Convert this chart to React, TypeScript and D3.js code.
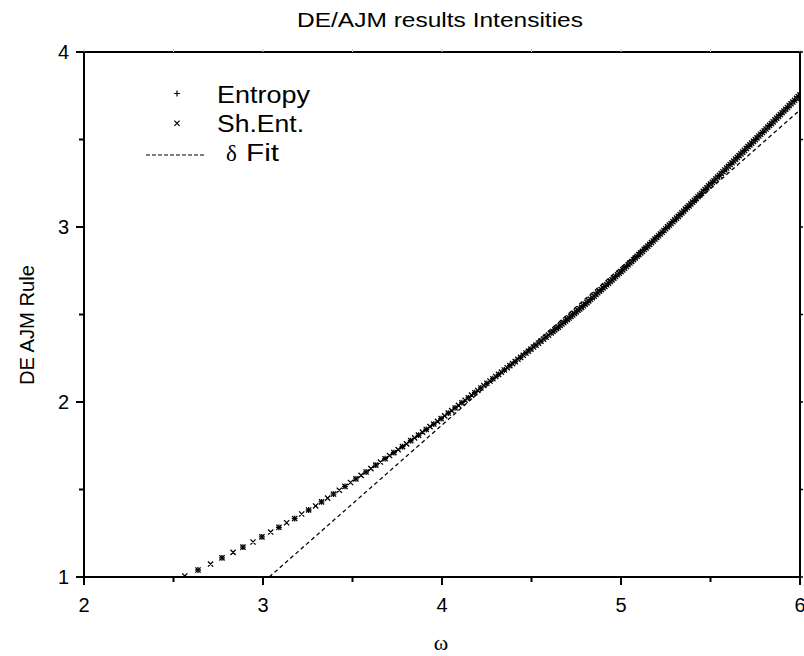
import React from "react";
import * as d3 from "d3";

const W = 804;
const H = 656;
const M = { left: 84, right: 4, top: 52, bottom: 79 };

const xTicks = [2, 3, 4, 5, 6];
const yTicks = [1, 2, 3, 4];
const xMinor = [2.5, 3.5, 4.5, 5.5];
const yMinor = [1.5, 2.5, 3.5];

// Sh.Ent. series (omega, value)
const shOmega = [
  2.563, 2.637, 2.707, 2.771, 2.833, 2.888, 2.944, 2.994, 3.043, 3.089, 3.132, 3.177, 3.216, 3.255, 3.294, 3.327, 3.361, 3.394,
  3.426, 3.458, 3.489, 3.519, 3.548, 3.576, 3.603, 3.63, 3.656, 3.682, 3.707, 3.731, 3.755, 3.779, 3.802, 3.825, 3.847, 3.869,
  3.891, 3.912, 3.933, 3.954, 3.975, 3.995, 4.015, 4.035, 4.054, 4.073, 4.092, 4.111, 4.129, 4.147, 4.165, 4.183, 4.2, 4.217,
  4.234, 4.251, 4.268, 4.284, 4.3, 4.316, 4.332, 4.348, 4.364, 4.379, 4.394, 4.409, 4.424, 4.439, 4.454, 4.469, 4.483, 4.497,
  4.511, 4.525, 4.539, 4.553, 4.567, 4.581, 4.595,
  4.61, 4.62, 4.63, 4.64, 4.65, 4.66, 4.67, 4.68, 4.69, 4.7, 4.71, 4.72, 4.73, 4.74, 4.75, 4.76, 4.77, 4.78, 4.79, 4.8,
  4.81, 4.82, 4.83, 4.84, 4.85, 4.86, 4.87, 4.88, 4.89, 4.9, 4.91, 4.92, 4.93, 4.94, 4.95, 4.96, 4.97, 4.98, 4.99, 5.0,
  5.01, 5.02, 5.03, 5.04, 5.05, 5.06, 5.07, 5.08, 5.09, 5.1, 5.11, 5.12, 5.13, 5.14, 5.15, 5.16, 5.17, 5.18, 5.19, 5.2,
  5.21, 5.22, 5.23, 5.24, 5.25, 5.26, 5.27, 5.28, 5.29, 5.3, 5.31, 5.32, 5.33, 5.34, 5.35, 5.36, 5.37, 5.38, 5.39, 5.4,
  5.41, 5.42, 5.43, 5.44, 5.45, 5.46, 5.47, 5.48, 5.49, 5.5, 5.51, 5.52, 5.53, 5.54, 5.55, 5.56, 5.57, 5.58, 5.59, 5.6,
  5.61, 5.62, 5.63, 5.64, 5.65, 5.66, 5.67, 5.68, 5.69, 5.7, 5.71, 5.72, 5.73, 5.74, 5.75, 5.76, 5.77, 5.78, 5.79, 5.8,
  5.81, 5.82, 5.83, 5.84, 5.85, 5.86, 5.87, 5.88, 5.89, 5.9, 5.91, 5.92, 5.93, 5.94, 5.95, 5.96, 5.97, 5.98, 5.99, 6.0,
];
const shValue = [
  1.006, 1.04, 1.074, 1.109, 1.141, 1.171, 1.2, 1.229, 1.257, 1.284, 1.31, 1.334, 1.36, 1.383, 1.406, 1.429, 1.451, 1.474,
  1.496, 1.518, 1.54, 1.561, 1.581, 1.6, 1.619, 1.639, 1.657, 1.676, 1.694, 1.711, 1.728, 1.745, 1.761, 1.779, 1.795, 1.811,
  1.828, 1.843, 1.859, 1.874, 1.889, 1.905, 1.921, 1.937, 1.951, 1.966, 1.981, 1.996, 2.01, 2.024, 2.039, 2.053, 2.066, 2.08,
  2.094, 2.107, 2.12, 2.133, 2.146, 2.158, 2.171, 2.183, 2.196, 2.208, 2.219, 2.231, 2.244, 2.255, 2.267, 2.28, 2.291, 2.302,
  2.314, 2.325, 2.336, 2.348, 2.359, 2.371, 2.382,
  2.395, 2.403, 2.412, 2.42, 2.428, 2.437, 2.446, 2.454, 2.463, 2.472, 2.48, 2.489, 2.498, 2.506, 2.515, 2.524, 2.532, 2.541, 2.55, 2.559,
  2.568, 2.578, 2.587, 2.596, 2.605, 2.615, 2.624, 2.633, 2.642, 2.652, 2.661, 2.67, 2.679, 2.689, 2.698, 2.708, 2.717, 2.727, 2.736, 2.745,
  2.755, 2.764, 2.774, 2.784, 2.794, 2.803, 2.813, 2.823, 2.833, 2.842, 2.852, 2.861, 2.872, 2.881, 2.891, 2.901, 2.911, 2.92, 2.931, 2.94,
  2.95, 2.96, 2.97, 2.98, 2.99, 3.001, 3.011, 3.02, 3.031, 3.041, 3.051, 3.061, 3.071, 3.081, 3.091, 3.102, 3.112, 3.121, 3.132, 3.142,
  3.152, 3.162, 3.173, 3.183, 3.193, 3.204, 3.214, 3.224, 3.235, 3.245, 3.255, 3.264, 3.275, 3.285, 3.295, 3.306, 3.316, 3.326, 3.337, 3.347,
  3.357, 3.367, 3.377, 3.388, 3.398, 3.408, 3.418, 3.428, 3.438, 3.449, 3.459, 3.469, 3.479, 3.489, 3.499, 3.509, 3.52, 3.53, 3.54, 3.55,
  3.56, 3.571, 3.581, 3.591, 3.601, 3.612, 3.622, 3.632, 3.642, 3.653, 3.663, 3.673, 3.683, 3.694, 3.704, 3.714, 3.724, 3.735, 3.745, 3.755,
];

// Entropy series (omega, value)
const entOmega = [
  2.637, 2.771, 2.888, 2.994, 3.089, 3.177, 3.255, 3.327, 3.394,
  3.458, 3.519, 3.576, 3.63, 3.682, 3.731, 3.779, 3.825, 3.869, 3.912, 3.954, 3.995, 4.035, 4.073, 4.111, 4.147, 4.183,
  4.217, 4.251, 4.284, 4.316, 4.348, 4.379, 4.409, 4.439, 4.469, 4.497, 4.525, 4.553, 4.581,
  4.61, 4.63, 4.65, 4.67, 4.69, 4.71, 4.73, 4.75, 4.77, 4.79, 4.81, 4.83, 4.85, 4.87, 4.89, 4.91, 4.93, 4.95, 4.97, 4.99,
  5.01, 5.03, 5.05, 5.07, 5.09, 5.11, 5.13, 5.15, 5.17, 5.19, 5.21, 5.23, 5.25, 5.27, 5.29, 5.31, 5.33, 5.35, 5.37, 5.39,
  5.41, 5.43, 5.45, 5.47, 5.49, 5.51, 5.53, 5.55, 5.57, 5.59, 5.61, 5.63, 5.65, 5.67, 5.69, 5.71, 5.73, 5.75, 5.77, 5.79,
  5.81, 5.83, 5.85, 5.87, 5.89, 5.91, 5.93, 5.95, 5.97, 5.99,
];
const entValue = [
  1.04, 1.109, 1.171, 1.229, 1.284, 1.334, 1.383, 1.429, 1.474,
  1.518, 1.561, 1.6, 1.639, 1.676, 1.711, 1.745, 1.779, 1.811, 1.843, 1.874, 1.905, 1.937, 1.966, 1.996, 2.024, 2.053,
  2.08, 2.107, 2.133, 2.158, 2.183, 2.208, 2.231, 2.255, 2.28, 2.302, 2.325, 2.348, 2.371,
  2.395, 2.412, 2.428, 2.446, 2.463, 2.48, 2.498, 2.515, 2.532, 2.55, 2.568, 2.587, 2.605, 2.624, 2.642, 2.661, 2.679, 2.698, 2.717, 2.736,
  2.755, 2.774, 2.794, 2.813, 2.833, 2.852, 2.872, 2.891, 2.911, 2.931, 2.95, 2.97, 2.99, 3.011, 3.031, 3.051, 3.071, 3.091, 3.112, 3.132,
  3.152, 3.173, 3.193, 3.214, 3.235, 3.255, 3.275, 3.295, 3.316, 3.337, 3.357, 3.377, 3.398, 3.418, 3.438, 3.459, 3.479, 3.499, 3.52, 3.54,
  3.56, 3.581, 3.601, 3.622, 3.642, 3.663, 3.683, 3.704, 3.724, 3.745,
];

// delta fit line
const fitOmega = [3.035, 6.0];
const fitValue = [1.0, 3.669];

const FONT = "'Liberation Sans', Arial, sans-serif";
const SERIF = "'Liberation Serif', 'Times New Roman', serif";

export default function App() {
  const x = d3.scaleLinear().domain([2, 6]).range([M.left, W - M.right]);
  const y = d3.scaleLinear().domain([1, 4]).range([H - M.bottom, M.top]);
  const x0 = x(2), x1 = x(6), y0 = y(1), y1 = y(4);

  const plus = (cx: number, cy: number, s: number) =>
    `M${cx - s},${cy}h${2 * s}M${cx},${cy - s}v${2 * s}`;
  const cross = (cx: number, cy: number, s: number) =>
    `M${cx - s},${cy - s}l${2 * s},${2 * s}M${cx - s},${cy + s}l${2 * s},${-2 * s}`;

  const shPath = shOmega.map((o, i) => cross(x(o), y(shValue[i]), 2.6)).join("");
  const entPath = entOmega.map((o, i) => plus(x(o), y(entValue[i]), 2.9)).join("");
  const fitLine = d3
    .line<number>()
    .x((o) => x(o))
    .y((_, i) => y(fitValue[i]))(fitOmega) as string;

  return (
    <svg width={W} height={H} style={{ display: "block", position: "absolute", left: 0, top: 0, background: "#fff" }}>
      <defs>
        <clipPath id="plot">
          <rect x={x0} y={y1} width={x1 - x0} height={y0 - y1} />
        </clipPath>
      </defs>
      <text x={440} y={27} textAnchor="middle" fontFamily={FONT} fontSize={20} textLength={286} lengthAdjust="spacingAndGlyphs">
        DE/AJM results Intensities
      </text>

      <g clipPath="url(#plot)">
        <path d={fitLine} fill="none" stroke="#000" strokeWidth={1.3} strokeDasharray="4,3" />
        <path d={shPath} fill="none" stroke="#000" strokeWidth={1.3} />
        <path d={entPath} fill="none" stroke="#000" strokeWidth={1.3} />
      </g>

      {/* frame */}
      <rect x={x0} y={y1} width={x1 - x0} height={y0 - y1} fill="none" stroke="#000" strokeWidth={2} />

      {/* x ticks bottom */}
      {xTicks.map((t) => (
        <g key={"xt" + t}>
          <line x1={x(t)} x2={x(t)} y1={y0} y2={y0 + 8} stroke="#000" strokeWidth={2} />
          <text x={x(t)} y={612} textAnchor="middle" fontFamily={FONT} fontSize={20}>
            {t}
          </text>
        </g>
      ))}
      {xMinor.map((t) => (
        <line key={"xm" + t} x1={x(t)} x2={x(t)} y1={y0} y2={y0 + 5} stroke="#000" strokeWidth={2} />
      ))}
      {/* top ticks */}
      {[...xTicks, ...xMinor].map((t) => (
        <line key={"xtt" + t} x1={x(t)} x2={x(t)} y1={y1} y2={y1 - 3} stroke="#ccc" strokeWidth={1} />
      ))}
      {/* y ticks left */}
      {yTicks.map((t) => (
        <g key={"yt" + t}>
          <line x1={x0} x2={x0 - 8} y1={y(t)} y2={y(t)} stroke="#000" strokeWidth={2} />
          <text x={69} y={y(t) + 7} textAnchor="end" fontFamily={FONT} fontSize={20}>
            {t}
          </text>
        </g>
      ))}
      {yMinor.map((t) => (
        <line key={"ym" + t} x1={x0} x2={x0 - 5} y1={y(t)} y2={y(t)} stroke="#000" strokeWidth={2} />
      ))}
      {/* right ticks */}
      {[...yTicks, ...yMinor].map((t) => (
        <line key={"yr" + t} x1={x1} x2={x1 + 3} y1={y(t)} y2={y(t)} stroke="#000" strokeWidth={1.5} />
      ))}

      {/* axis titles */}
      <text
        transform={`translate(34,325) rotate(-90)`}
        textAnchor="middle"
        fontFamily={FONT}
        fontSize={19.5}
        textLength={120}
        lengthAdjust="spacingAndGlyphs"
      >
        DE AJM Rule
      </text>
      <text x={441} y={650} textAnchor="middle" fontFamily={SERIF} fontSize={22}>
        ω
      </text>

      {/* legend */}
      <path d={plus(177, 93.5, 2.9)} fill="none" stroke="#000" strokeWidth={1.2} />
      <text x={217} y={103.3} fontFamily={FONT} fontSize={23} textLength={93} lengthAdjust="spacingAndGlyphs">
        Entropy
      </text>
      <path d={cross(177, 123.3, 2.6)} fill="none" stroke="#000" strokeWidth={1.2} />
      <text x={217} y={132.3} fontFamily={FONT} fontSize={23} textLength={87} lengthAdjust="spacingAndGlyphs">
        Sh.Ent.
      </text>
      <line x1={146} x2={204} y1={155} y2={155} stroke="#000" strokeWidth={1.2} strokeDasharray="4,2" />
      <text x={226} y={161.3} fontFamily={SERIF} fontSize={23}>
        δ
      </text>
      <text x={246} y={161.3} fontFamily={FONT} fontSize={23} textLength={33} lengthAdjust="spacingAndGlyphs">
        Fit
      </text>
    </svg>
  );
}
